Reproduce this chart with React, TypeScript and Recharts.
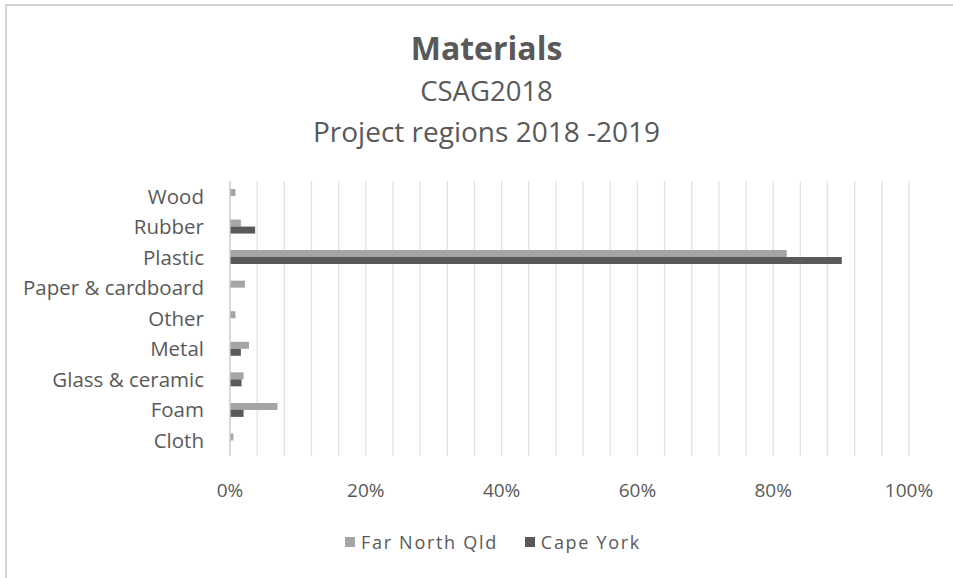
import React from 'react';
import { BarChart, Bar, XAxis, YAxis, CartesianGrid } from 'recharts';

const categories = ['Wood', 'Rubber', 'Plastic', 'Paper & cardboard', 'Other', 'Metal', 'Glass & ceramic', 'Foam', 'Cloth'];
const farNorthQld = [0.8, 1.6, 82.0, 2.2, 0.8, 2.8, 2.0, 7.0, 0.5];
const capeYork = [0, 3.7, 90.1, 0, 0, 1.6, 1.7, 2.0, 0];
const seriesNames = ['Far North Qld', 'Cape York'];
const seriesColors = ['#a5a5a5', '#595959'];
const xTicks = [0, 4, 8, 12, 16, 20, 24, 28, 32, 36, 40, 44, 48, 52, 56, 60, 64, 68, 72, 76, 80, 84, 88, 92, 96, 100];
const titleLines = ['Materials', 'CSAG2018', 'Project regions 2018 -2019'];

const data = categories.map((name, i) => ({ name, fnq: farNorthQld[i], cy: capeYork[i] }));

const FONT = '"Open Sans", "Noto Sans", sans-serif';
const TEXT = '#595959';

export default function App() {
  return (
    <div style={{ position: 'relative', width: 953, height: 578, marginLeft: -8, marginTop: -8, background: '#fff', overflow: 'hidden', fontFamily: FONT }}>
      <div style={{ position: 'absolute', left: 0, width: 973, top: 28, textAlign: 'center', color: TEXT, fontSize: 32, fontWeight: 700, lineHeight: '40px' }}>{titleLines[0]}</div>
      <div style={{ position: 'absolute', left: 0, width: 973, top: 74, textAlign: 'center', color: TEXT, fontSize: 27.5, lineHeight: '34px' }}>{titleLines[1]}</div>
      <div style={{ position: 'absolute', left: 0, width: 973, top: 114, textAlign: 'center', color: TEXT, fontSize: 28, lineHeight: '34px' }}>{titleLines[2]}</div>
      <div style={{ position: 'absolute', left: 0, top: 0 }}>
        <BarChart width={953} height={578} data={data} layout="vertical" margin={{ top: 181, right: 44, bottom: 92, left: 0 }} barGap={0} barCategoryGap={16}>
          <CartesianGrid horizontal={false} vertical={true} stroke="#e2e2e2" strokeWidth={1.3} />
          <XAxis type="number" domain={[0, 100]} ticks={xTicks} interval={0} axisLine={false} tickLine={false}
            tickFormatter={(v: number) => (v % 20 === 0 ? `${v}%` : '')}
            tick={{ fill: TEXT, fontSize: 19, fontFamily: FONT }} height={30} tickMargin={22} />
          <YAxis type="category" dataKey="name" width={230} axisLine={{ stroke: '#d0d0d0', strokeWidth: 1.3 }} tickLine={false}
            tick={{ fill: TEXT, fontSize: 20.5, fontFamily: FONT }} tickMargin={20} interval={0} />
          <Bar dataKey="fnq" name={seriesNames[0]} fill={seriesColors[0]} barSize={7} isAnimationActive={false} />
          <Bar dataKey="cy" name={seriesNames[1]} fill={seriesColors[1]} barSize={7} isAnimationActive={false} />
        </BarChart>
      </div>
      <div style={{ position: 'absolute', left: 345, top: 529, display: 'flex', gap: 27, color: TEXT, fontSize: 18, letterSpacing: '1.7px', lineHeight: '26px' }}>
        {seriesNames.map((n, i) => (
          <div key={n} style={{ display: 'flex', alignItems: 'center', gap: 6 }}>
            <span style={{ display: 'inline-block', width: 10, height: 10, background: seriesColors[i] }} />
            <span>{n}</span>
          </div>
        ))}
      </div>
      <div style={{ position: 'fixed', zIndex: 5, left: 5, top: 4, width: 948, height: 2, background: '#d4d4d4' }} />
      <div style={{ position: 'fixed', zIndex: 5, left: 5, top: 4, width: 2, height: 574, background: '#d4d4d4' }} />
    </div>
  );
}
